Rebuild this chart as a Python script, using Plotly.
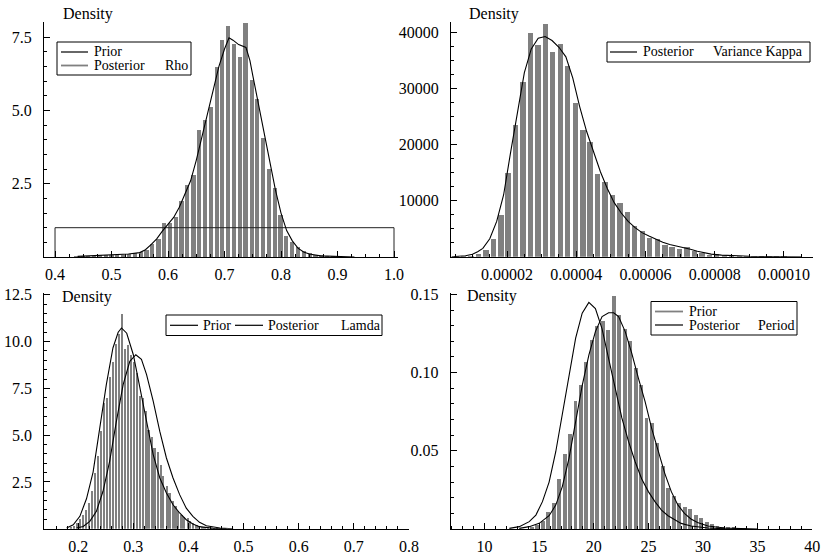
import plotly.graph_objects as go

W, H = 821, 556
FONT = "Liberation Serif, Times New Roman, serif"
BAR = "#808080"

# ---------------- Panel 1: Rho ----------------
rho_bins = [0.438, 0.449, 0.459, 0.469, 0.479, 0.490, 0.500, 0.510, 0.521, 0.531,
            0.542, 0.552, 0.562, 0.572, 0.583, 0.593, 0.603, 0.614, 0.624, 0.634,
            0.645, 0.655, 0.665, 0.676, 0.686, 0.696, 0.706, 0.717, 0.727, 0.737,
            0.748, 0.758, 0.768, 0.779, 0.789, 0.799, 0.809, 0.820, 0.830, 0.840,
            0.851, 0.861, 0.871, 0.882, 0.892, 0.902]
rho_density = [0.02, 0.02, 0.03, 0.03, 0.04, 0.05, 0.06, 0.07, 0.08, 0.09,
               0.12, 0.16, 0.24, 0.43, 0.62, 1.15, 1.16, 1.37, 1.92, 2.45,
               2.80, 4.33, 4.67, 5.12, 6.49, 7.40, 7.90, 7.28, 6.83, 8.00,
               6.03, 5.40, 4.05, 3.02, 2.34, 1.45, 0.70, 0.52, 0.35, 0.22,
               0.13, 0.07, 0.05, 0.03, 0.02, 0.01]
rho_post_x = [0.44, 0.50, 0.53, 0.55, 0.56, 0.57, 0.58, 0.59, 0.60, 0.61,
              0.62, 0.63, 0.64, 0.65, 0.66, 0.67, 0.68, 0.69, 0.70, 0.708,
              0.715, 0.725, 0.738, 0.745, 0.75, 0.76, 0.77, 0.78, 0.79, 0.80,
              0.81, 0.82, 0.83, 0.84, 0.85, 0.87, 0.90, 0.93]
rho_post_y = [0.02, 0.07, 0.10, 0.15, 0.25, 0.42, 0.62, 0.88, 1.12, 1.35,
              1.70, 2.15, 2.60, 3.30, 4.10, 5.00, 5.80, 6.50, 7.10, 7.48,
              7.40, 7.25, 7.15, 6.70, 6.20, 5.20, 4.30, 3.25, 2.30, 1.50,
              0.90, 0.55, 0.30, 0.17, 0.10, 0.04, 0.01, 0.0]
rho_prior_x = [0.4, 0.4, 1.0, 1.0]
rho_prior_y = [0.0, 1.0, 1.0, 0.0]
rho_binwidth = 0.0103
rho_yticks = [2.5, 5.0, 7.5]
rho_yticklabels = ["2.5", "5.0", "7.5"]

# ---------------- Panel 2: Variance Kappa ----------------
kap_bins = [5.3e-6, 7.4e-6, 9.6e-6, 1.17e-5, 1.39e-5, 1.60e-5, 1.82e-5, 2.03e-5, 2.25e-5,
            2.46e-5, 2.68e-5, 2.89e-5, 3.11e-5, 3.32e-5, 3.54e-5, 3.75e-5, 3.97e-5,
            4.19e-5, 4.40e-5, 4.62e-5, 4.83e-5, 5.05e-5, 5.26e-5, 5.48e-5, 5.69e-5,
            5.91e-5, 6.12e-5, 6.34e-5, 6.56e-5, 6.77e-5, 6.99e-5, 7.20e-5, 7.42e-5,
            7.63e-5, 7.85e-5, 8.06e-5, 8.28e-5, 8.49e-5, 8.71e-5, 8.92e-5, 9.14e-5,
            9.35e-5, 9.57e-5, 9.78e-5, 1.00e-4]
kap_density = [20, 60, 200, 475, 1245, 3200, 7470, 15060, 23490,
               31200, 39980, 37720, 41580, 36530, 37900, 33980, 27520,
               22600, 20520, 14710, 13290, 11030, 9550, 8070, 5580,
               4630, 3440, 3200, 2140, 1800, 1500, 1800, 1050,
               740, 330, 500, 330, 200, 150, 100, 80,
               60, 40, 30, 20]
kap_post_x = [4e-6, 6e-6, 8e-6, 1.0e-5, 1.15e-5, 1.3e-5, 1.5e-5, 1.7e-5, 1.9e-5, 2.1e-5,
              2.3e-5, 2.5e-5, 2.7e-5, 2.9e-5, 3.1e-5, 3.3e-5, 3.5e-5, 3.7e-5, 3.9e-5, 4.1e-5,
              4.3e-5, 4.5e-5, 4.7e-5, 4.9e-5, 5.1e-5, 5.3e-5, 5.5e-5, 5.7e-5, 5.9e-5, 6.1e-5,
              6.3e-5, 6.5e-5, 6.7e-5, 6.9e-5, 7.1e-5, 7.3e-5, 7.5e-5, 7.7e-5, 7.9e-5, 8.2e-5,
              8.6e-5, 9.0e-5, 9.5e-5, 1.0e-4, 1.05e-4]
kap_post_y = [0, 60, 180, 450, 900, 1500, 3200, 6300, 11000, 18500,
              25800, 32800, 37000, 38900, 39200, 38500, 37300, 35600, 31800, 26700,
              22300, 18600, 15100, 12100, 9600, 7800, 6300, 5200, 4300, 3700,
              3100, 2600, 2200, 1950, 1700, 1350, 1000, 700, 480, 300,
              170, 100, 50, 20, 5]
kap_binwidth = 2.15e-6
kap_yticks = [10000, 20000, 30000, 40000]
kap_yticklabels = ["10000", "20000", "30000", "40000"]

# ---------------- Panel 3: Lamda ----------------
lam_bins = [0.188, 0.193, 0.199, 0.204, 0.210, 0.215, 0.220, 0.226, 0.231, 0.237,
            0.242, 0.247, 0.253, 0.258, 0.264, 0.269, 0.274, 0.280, 0.285, 0.291,
            0.296, 0.301, 0.307, 0.312, 0.318, 0.323, 0.328, 0.334, 0.339, 0.345,
            0.350, 0.355, 0.361, 0.366, 0.372, 0.377, 0.382, 0.388, 0.393, 0.399,
            0.404, 0.409, 0.415, 0.420, 0.426, 0.431, 0.436, 0.442, 0.447, 0.453]
lam_density = [0.05, 0.12, 0.30, 0.50, 0.75, 1.00, 1.40, 2.00, 3.00, 3.90,
               5.20, 6.70, 7.00, 8.10, 8.90, 9.90, 10.40, 11.50, 9.60, 9.80,
               9.30, 8.90, 8.30, 7.10, 7.00, 6.30, 5.30, 4.90, 4.30, 4.10,
               3.40, 2.80, 2.30, 1.90, 1.50, 1.20, 0.95, 0.75, 0.60, 0.55,
               0.40, 0.30, 0.22, 0.15, 0.10, 0.07, 0.05, 0.03, 0.02, 0.01]
lam_post_x = [0.179, 0.191, 0.203, 0.215, 0.227, 0.239, 0.251, 0.263, 0.2725, 0.2785,
              0.288, 0.300, 0.312, 0.324, 0.336, 0.348, 0.360, 0.372, 0.384, 0.396,
              0.408, 0.420, 0.445, 0.469]
lam_post_y = [0.04, 0.21, 0.66, 1.60, 3.03, 5.35, 7.70, 9.66, 10.50, 10.73,
              10.45, 9.30, 7.52, 5.56, 3.96, 2.71, 1.91, 1.28, 0.84, 0.48,
              0.25, 0.11, 0.02, 0.0]
lam_prior_x = [0.197, 0.209, 0.221, 0.233, 0.245, 0.257, 0.269, 0.2815, 0.2936, 0.3045,
               0.3147, 0.324, 0.336, 0.348, 0.360, 0.372, 0.384, 0.396, 0.408, 0.420,
               0.4325, 0.457, 0.481]
lam_prior_y = [0.04, 0.12, 0.39, 0.93, 2.00, 3.60, 5.70, 7.70, 8.95, 9.30,
               9.05, 8.24, 6.82, 5.20, 3.78, 2.71, 1.82, 1.10, 0.66, 0.34,
               0.16, 0.04, 0.0]
lam_binwidth = 0.0054
lam_yticks = [2.5, 5.0, 7.5, 10.0, 12.5]
lam_yticklabels = ["2.5", "5.0", "7.5", "10.0", "12.5"]

# ---------------- Panel 4: Period ----------------
per_bins = [14.3, 14.8, 15.3, 15.8, 16.3, 16.8, 17.3, 17.8, 18.3, 18.8,
            19.3, 19.8, 20.3, 20.8, 21.3, 21.8, 22.3, 22.8, 23.3, 23.8,
            24.3, 24.8, 25.3, 25.8, 26.3, 26.8, 27.3, 27.8, 28.3, 28.8,
            29.3, 29.8, 30.3, 30.8, 31.3, 31.8, 32.3, 32.8]
per_density = [0.001, 0.0025, 0.005, 0.0107, 0.0165, 0.032, 0.048, 0.061, 0.082, 0.092,
               0.107, 0.121, 0.130, 0.133, 0.127, 0.149, 0.137, 0.128, 0.120, 0.103,
               0.092, 0.071, 0.068, 0.055, 0.040, 0.026, 0.021, 0.0167, 0.0143, 0.0128,
               0.009, 0.007, 0.0045, 0.003, 0.002, 0.0015, 0.001, 0.0007]
per_prior_x = [12.27, 13.18, 14.09, 14.7, 15.3, 15.91, 16.52, 17.12, 17.73, 18.34,
               18.94, 19.55, 20.15, 20.76, 21.36, 21.97, 22.57, 23.18, 23.79, 24.39,
               25.0, 25.6, 26.2, 26.8, 27.4, 28.0, 28.9, 30.45, 31.97, 34.0]
per_prior_y = [0.0004, 0.0015, 0.0047, 0.0089, 0.0175, 0.030, 0.0494, 0.0729, 0.0984, 0.122,
               0.138, 0.1449, 0.141, 0.128, 0.109, 0.090, 0.071, 0.056, 0.043, 0.032,
               0.0239, 0.0175, 0.0121, 0.0085, 0.0058, 0.0036, 0.0019, 0.0006, 0.0002, 0.0]
per_post_x = [13.18, 14.09, 15.0, 15.91, 16.52, 17.12, 17.73, 18.34, 18.94, 19.55,
              20.15, 20.76, 21.36, 21.82, 22.27, 22.88, 23.48, 24.09, 24.7, 25.3,
              25.9, 26.5, 27.1, 27.7, 28.3, 28.9, 29.5, 30.45, 31.97, 33.5, 35.0]
per_post_y = [0.0004, 0.0015, 0.0036, 0.0085, 0.0153, 0.0271, 0.0452, 0.0682, 0.0917, 0.1112,
              0.1262, 0.1358, 0.1383, 0.1383, 0.1358, 0.1262, 0.1123, 0.0963, 0.0814, 0.0644,
              0.0495, 0.0356, 0.0239, 0.0154, 0.0100, 0.0064, 0.0041, 0.0019, 0.0006, 0.0002, 0.0]
per_binwidth = 0.5
per_yticks = [0.05, 0.10, 0.15]
per_yticklabels = ["0.05", "0.10", "0.15"]


def PX(x):
    return x / W


def PY(y):
    return 1 - y / H


fig = go.Figure()


def add_bars(x, y, w, xa, ya):
    fig.add_trace(go.Bar(x=x, y=y, width=w * 0.72, marker=dict(color=BAR, line=dict(width=0)),
                         xaxis=xa, yaxis=ya, showlegend=False, hoverinfo="skip"))


def add_line(x, y, xa, ya, color="black", width=1.1):
    fig.add_trace(go.Scatter(x=x, y=y, mode="lines", line=dict(color=color, width=width),
                             xaxis=xa, yaxis=ya, showlegend=False, hoverinfo="skip"))


add_bars(rho_bins, rho_density, rho_binwidth, "x", "y")
add_line(rho_prior_x, rho_prior_y, "x", "y", color="#222222", width=1)
add_line(rho_post_x, rho_post_y, "x", "y")

add_bars(kap_bins, kap_density, kap_binwidth, "x2", "y2")
add_line(kap_post_x, kap_post_y, "x2", "y2")

add_bars(lam_bins, lam_density, lam_binwidth, "x3", "y3")
add_line(lam_prior_x, lam_prior_y, "x3", "y3")
add_line(lam_post_x, lam_post_y, "x3", "y3")

add_bars(per_bins, per_density, per_binwidth, "x4", "y4")
add_line(per_prior_x, per_prior_y, "x4", "y4")
add_line(per_post_x, per_post_y, "x4", "y4")

tickfont = dict(family=FONT, size=16, color="black")


def xaxis(dom, rng, dtick, tick0, fmt, mdtick, anchor):
    return dict(domain=[PX(dom[0]), PX(dom[1])], range=rng, anchor=anchor, automargin=False,
                showline=True, linecolor="black", linewidth=1, mirror=False,
                ticks="inside", ticklen=6, tickwidth=1, tickcolor="black",
                tickmode="linear", dtick=dtick, tick0=tick0, tickformat=fmt,
                showgrid=False, zeroline=False, tickfont=tickfont, ticklabelstandoff=3,
                minor=dict(ticks="inside", ticklen=3, tickwidth=1, tickcolor="black",
                           tickmode="linear", tick0=tick0, dtick=mdtick, showgrid=False))


def yaxis(dom, rng, vals, labels, mdtick, anchor):
    return dict(domain=[PY(dom[1]), PY(dom[0])], range=rng, anchor=anchor, automargin=False,
                showline=True, linecolor="black", linewidth=1,
                ticks="inside", ticklen=6, tickwidth=1, tickcolor="black",
                tickmode="array", tickvals=vals, ticktext=labels,
                showgrid=False, zeroline=False, tickfont=tickfont, ticklabelstandoff=8,
                minor=dict(ticks="inside", ticklen=3, tickwidth=1, tickcolor="black",
                           tickmode="linear", tick0=0, dtick=mdtick, showgrid=False))


fig.update_layout(
    width=W, height=H, autosize=False,
    margin=dict(l=0, r=0, t=0, b=0, pad=0, autoexpand=False),
    paper_bgcolor="white", plot_bgcolor="white", showlegend=False,
    bargap=0,
    xaxis=xaxis((44, 398.3), [0.3805, 1.0076], 0.1, 0.4, ".1f", 0.025, "y"),
    yaxis=yaxis((22, 257), [0, 8.02], rho_yticks, rho_yticklabels, 0.5, "x"),
    xaxis2=xaxis((451, 813.3), [3.8e-6, 1.085e-4], 2e-5, 0, ".5f", 5e-6, "y2"),
    yaxis2=yaxis((21.7, 256.8), [0, 41850], kap_yticks, kap_yticklabels, 2500, "x2"),
    xaxis3=xaxis((44.3, 409), [0.1385, 0.8], 0.1, 0.2, ".1f", 0.02, "y3"),
    yaxis3=yaxis((293, 528.7), [0, 12.6], lam_yticks, lam_yticklabels, 0.5, "x3"),
    xaxis4=xaxis((450.7, 812.2), [6.9, 40], 5, 10, "d", 1, "y4"),
    yaxis4=yaxis((293, 529), [0, 0.1509], per_yticks, per_yticklabels, 0.01, "x4"),
)

shapes = []
annots = []


def box(x0, y0, x1, y1):
    shapes.append(dict(type="rect", xref="paper", yref="paper", x0=PX(x0), x1=PX(x1),
                       y0=PY(y1), y1=PY(y0), line=dict(color="black", width=1),
                       fillcolor="white", layer="above"))


def seg(x0, x1, y, color="black", width=1.2):
    shapes.append(dict(type="line", xref="paper", yref="paper", x0=PX(x0), x1=PX(x1),
                       y0=PY(y), y1=PY(y), line=dict(color=color, width=width), layer="above"))


def text(x, y, s, size=14):
    annots.append(dict(xref="paper", yref="paper", x=PX(x), y=PY(y), text=s, showarrow=False,
                       xanchor="left", yanchor="middle", font=dict(family=FONT, size=size, color="black")))


# "Density" labels
text(61, 14, "Density", 16)
text(467, 14, "Density", 16)
text(60, 297, "Density", 16)
text(465, 296, "Density", 16)

# Panel 1 legend
box(57, 42, 191, 75)
seg(61, 88, 52)
seg(61, 88, 65.5, color=BAR, width=1.8)
text(92, 52, "Prior")
text(92, 65.5, "Posterior")
text(163, 65.5, "Rho")

# Panel 2 legend
box(607, 42, 810, 62)
seg(610, 637, 52)
text(641, 52, "Posterior")
text(711, 52, "Variance Kappa")

# Panel 3 legend
box(166, 315, 382, 335.5)
seg(170, 198, 325.3)
text(201, 325.3, "Prior")
seg(235, 263, 325.3)
text(266, 325.3, "Posterior")
text(339, 325.3, "Lamda")

# Panel 4 legend
box(651, 301.5, 797, 335)
seg(655, 683, 311.5, color=BAR, width=1.8)
seg(655, 683, 325)
text(687, 311.5, "Prior")
text(687, 325, "Posterior")
text(756, 325, "Period")

fig.update_layout(shapes=shapes, annotations=annots)

PAGE_FIX = (
    "document.documentElement.style.margin='0';"
    "document.documentElement.style.overflow='hidden';"
    "document.body.style.margin='0';"
    "document.body.style.overflow='hidden';"
    "var gd=document.getElementsByClassName('plotly-graph-div')[0];"
    "gd.style.position='fixed';gd.style.left='0px';gd.style.top='0px';"
)
fig.write_html("out.html", config={"displayModeBar": False}, post_script=PAGE_FIX)
